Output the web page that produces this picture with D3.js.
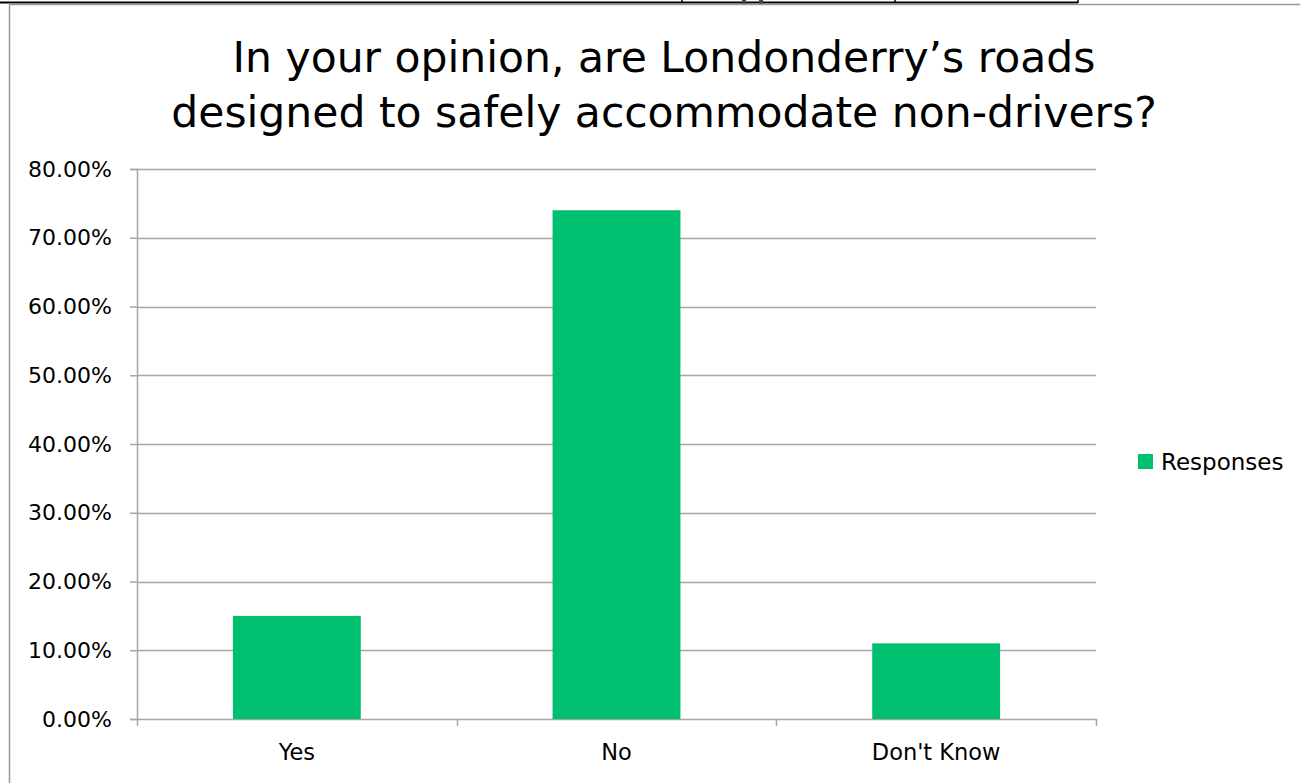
<!DOCTYPE html>
<html>
<head>
<meta charset="utf-8">
<script src="https://cdn.jsdelivr.net/npm/d3@7"></script>
<style>
  body { margin: 0; background: #fff; }
  svg { display: block; }
</style>
</head>
<body>
<div id="chart"></div>
<script>
const categories = ['Yes', 'No', "Don't Know"]
const responses = [0.15, 0.74, 0.11]
const yTicks = [0, 0.1, 0.2, 0.3, 0.4, 0.5, 0.6, 0.7, 0.8]
const titleLines = ['In your opinion, are Londonderry\u2019s roads', 'designed to safely accommodate non-drivers?']
const seriesName = 'Responses'

const W = 1300
const H = 783
const margin = { top: 169, left: 137, right: 204, bottom: 64 }
const width = W - margin.left - margin.right
const height = H - margin.top - margin.bottom
const green = '#00bf6f'
const grid = '#a6a6a6'
const font = 'DejaVu Sans, Verdana, sans-serif'

const root = d3.select('#chart')
  .append('svg')
  .attr('width', W)
  .attr('height', H)

// frame bits left over from the page around the chart
root.append('line').attr('x1', 0).attr('x2', 1078).attr('y1', 2.5).attr('y2', 2.5)
  .attr('stroke', '#000').attr('stroke-width', 2)
;[682, 895, 1078].forEach(x => {
  root.append('line').attr('x1', x).attr('x2', x).attr('y1', 0).attr('y2', 3)
    .attr('stroke', '#000').attr('stroke-width', 1.5)
})
;[744, 761].forEach(x => {
  root.append('rect').attr('x', x - 2).attr('y', 0).attr('width', 4).attr('height', 4).attr('fill', '#444')
})
root.append('line').attr('x1', 9).attr('x2', W).attr('y1', 4.5).attr('y2', 4.5)
  .attr('stroke', '#999').attr('stroke-width', 1.5)
root.append('line').attr('x1', 9.5).attr('x2', 9.5).attr('y1', 4).attr('y2', H)
  .attr('stroke', '#999').attr('stroke-width', 1.5)

// title
root.append('text')
  .attr('x', 664)
  .attr('text-anchor', 'middle')
  .attr('font-family', font)
  .attr('font-size', 42.5)
  .attr('fill', '#000')
  .selectAll('tspan')
  .data(titleLines)
  .enter()
  .append('tspan')
  .attr('x', 664)
  .attr('y', (d, i) => 72 + i * 55)
  .text(d => d)

const svg = root.append('g')
  .attr('transform', 'translate(' + margin.left + ',' + margin.top + ')')

const xPositionScale = d3.scaleBand()
  .domain(categories)
  .range([0, width])
  .paddingInner(0.6)
  .paddingOuter(0.3)

const yPositionScale = d3.scaleLinear()
  .domain([0, 0.8])
  .range([height, 0])

// gridlines + y axis
const y_axis = d3.axisLeft(yPositionScale)
  .tickValues(yTicks)
  .tickFormat(d3.format('.2%'))
  .tickSize(7)
  .tickPadding(18)

svg.append('g')
  .attr('class', 'grid')
  .selectAll('line')
  .data(yTicks.slice(1))
  .enter()
  .append('line')
  .attr('x1', 0)
  .attr('x2', width)
  .attr('y1', d => Math.round(yPositionScale(d)) + 0.5)
  .attr('y2', d => Math.round(yPositionScale(d)) + 0.5)
  .attr('stroke', grid)
  .attr('stroke-width', 1.5)

svg.append('g')
  .attr('class', 'axis y-axis')
  .call(y_axis)

// x axis with ticks at category boundaries
const x_axis = d3.axisBottom(xPositionScale).tickSize(0).tickPadding(25)
svg.append('g')
  .attr('class', 'axis x-axis')
  .attr('transform', 'translate(0,' + height + ')')
  .call(x_axis)

const step = xPositionScale.step()
svg.append('g')
  .selectAll('line')
  .data(d3.range(categories.length + 1))
  .enter()
  .append('line')
  .attr('x1', i => Math.round(i * step) + 0.5)
  .attr('x2', i => Math.round(i * step) + 0.5)
  .attr('y1', height)
  .attr('y2', height + 7)
  .attr('stroke', grid)
  .attr('stroke-width', 1.5)

svg.selectAll('.axis path').attr('stroke', grid).attr('stroke-width', 1.5)
svg.selectAll('.axis line').attr('stroke', grid).attr('stroke-width', 1.5)
svg.selectAll('.axis text')
  .attr('font-family', font)
  .attr('font-size', 22)
  .attr('fill', '#000')
svg.selectAll('.x-axis text').attr('font-size', 22.5)

// bars
svg.append('g')
  .selectAll('rect')
  .data(responses)
  .enter()
  .append('rect')
  .attr('x', (d, i) => xPositionScale(categories[i]))
  .attr('y', d => yPositionScale(d))
  .attr('width', xPositionScale.bandwidth())
  .attr('height', d => height - yPositionScale(d))
  .attr('fill', green)

// legend
const legend = root.append('g').attr('transform', 'translate(1138,454)')
legend.append('rect')
  .attr('width', 15)
  .attr('height', 15)
  .attr('fill', green)
legend.append('text')
  .attr('x', 23)
  .attr('y', 16)
  .attr('font-family', font)
  .attr('font-size', 23)
  .attr('fill', '#000')
  .text(seriesName)
</script>
</body>
</html>
